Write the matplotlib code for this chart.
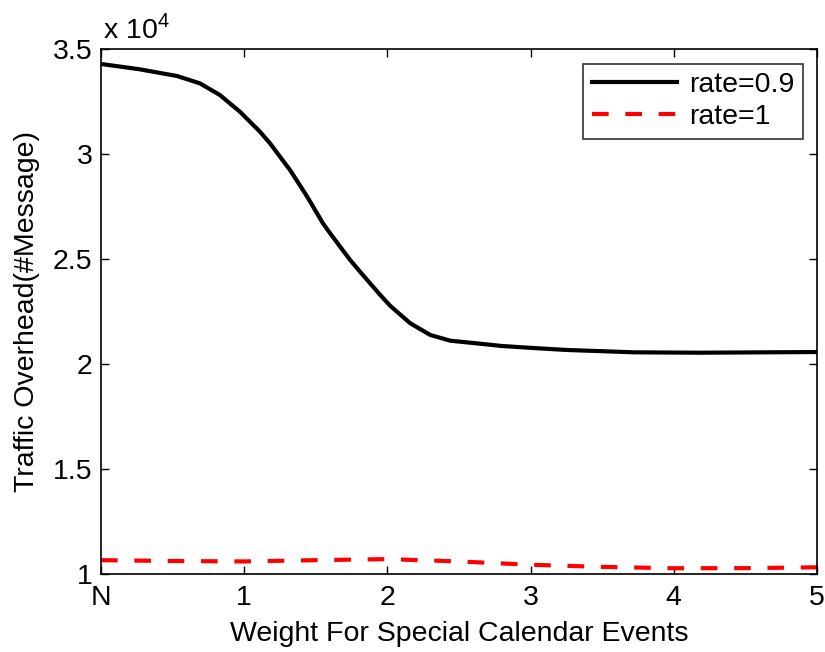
import matplotlib
matplotlib.use("Agg")
import matplotlib.pyplot as plt
from matplotlib.ticker import FixedLocator, FuncFormatter

plt.rcParams['font.family'] = ['Liberation Sans', 'DejaVu Sans']
plt.rcParams['mathtext.fontset'] = 'custom'
plt.rcParams['mathtext.rm'] = 'Liberation Sans'

# Data
x_black = [0, 0.27, 0.53, 0.69, 0.83, 0.97, 1.04, 1.11, 1.18, 1.25, 1.32, 1.38, 1.44,
           1.55, 1.60, 1.67, 1.74, 1.81, 1.88, 1.95, 2.02, 2.16, 2.30, 2.44, 2.62,
           2.80, 3.0, 3.25, 3.5, 3.72, 4.18, 4.65, 5.0]
y_black = [34310, 34056, 33737, 33389, 32831, 32035, 31559, 31082, 30530, 29890, 29256,
           28622, 27984, 26716, 26240, 25600, 24967, 24400, 23850, 23300, 22780, 21950,
           21392, 21120, 20996, 20868, 20780, 20679, 20620, 20567, 20548, 20567, 20580]
x_red = [0, 0.5, 1.0, 1.5, 2.0, 2.5, 3.0, 3.5, 4.0, 4.5, 5.0]
y_red = [10660, 10620, 10600, 10660, 10710, 10600, 10440, 10340, 10275, 10280, 10320]

x_ticks = [0, 1, 2, 3, 4, 5]
x_tick_labels = ['N', '1', '2', '3', '4', '5']
y_ticks = [10000, 15000, 20000, 25000, 30000, 35000]
series_labels = ['rate=0.9', 'rate=1']

FS = 20.5

fig = plt.figure(figsize=(8.25, 6.52), dpi=100)
ax = fig.add_axes([0.1224, 0.1196, 0.9903 - 0.1224, 0.9241 - 0.1196])

ax.plot(x_black, y_black, color='black', lw=3, label=series_labels[0],
        solid_joinstyle='round')
ax.plot(x_red, y_red, color='red', lw=3, dashes=(4, 4), label=series_labels[1])

ax.set_xlim(0, 5)
ax.set_ylim(10000, 35000)
ax.xaxis.set_major_locator(FixedLocator(x_ticks))
ax.set_xticklabels(x_tick_labels)
ax.yaxis.set_major_locator(FixedLocator(y_ticks))
ax.yaxis.set_major_formatter(FuncFormatter(lambda v, p: f"{v/1e4:g}"))

ax.tick_params(direction='in', length=6, width=1, top=True, right=True,
               labelsize=FS, colors='black')
ax.tick_params(axis='y', pad=6)
ax.tick_params(axis='x', pad=8)
for s in ax.spines.values():
    s.set_linewidth(1.2)

ax.set_xlabel('Weight For Special Calendar Events', fontsize=FS, labelpad=7)
ax.set_ylabel('Traffic Overhead(#Message)', fontsize=FS, labelpad=9)

ax.text(0.003, 1.01, r'x 10$^4$', transform=ax.transAxes, fontsize=FS,
        ha='left', va='bottom')

leg = ax.legend(loc='upper right', fontsize=FS, frameon=True, fancybox=False,
                edgecolor='black', handlelength=3.0, borderaxespad=0.5,
                labelspacing=0.2, handletextpad=0.4, borderpad=0.3)
leg.get_frame().set_linewidth(1.2)

fig.savefig('out.png', dpi=100)
